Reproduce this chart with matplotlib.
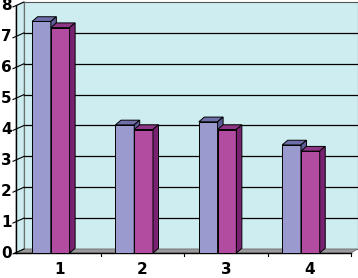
import matplotlib
matplotlib.use("Agg")
import matplotlib.pyplot as plt
from matplotlib.patches import Polygon

# ------------------------------------------------------------
# Data
# ------------------------------------------------------------

categories = [1, 2, 3, 4]
series_a = [7.5, 4.15, 4.25, 3.5]   # lavender bars
series_b = [7.3, 4.0, 4.0, 3.3]     # magenta bars
y_ticks = [0, 1, 2, 3, 4, 5, 6, 7, 8]

# ------------------------------------------------------------
# Figure / axes (front plane of the fake 3D chart)
# ------------------------------------------------------------

W, H = 358, 278
fig = plt.figure(figsize=(W / 100, H / 100), dpi=100)
fig.patch.set_facecolor("white")

x_lo, x_hi = 0.5, 4.5
y_lo, y_hi = 0, 8
px_left, px_right = 17.5, 351.0
px_bottom, px_top = 253.0, 6.0
ax = fig.add_axes([px_left / W, (H - px_bottom) / H,
                   (px_right - px_left) / W, (px_bottom - px_top) / H])
ax.set_xlim(x_lo, x_hi)
ax.set_ylim(y_lo, y_hi)
ax.axis("off")

# pixel -> data conversions for depth offsets
ux = (px_right - px_left) / (x_hi - x_lo)
uy = (px_bottom - px_top) / (y_hi - y_lo)

wall_dx, wall_dy = 6.5 / ux, 4.0 / uy
bar_dx, bar_dy = 5.5 / ux, 4.7 / uy

wall_color = "#CDEDF0"

# back wall
wall = Polygon([(x_lo + wall_dx, wall_dy), (x_hi + wall_dx, wall_dy),
                (x_hi + wall_dx, y_hi + wall_dy), (x_lo + wall_dx, y_hi + wall_dy)],
               closed=True, facecolor=wall_color, edgecolor="#555555",
               linewidth=0.8, clip_on=False, zorder=0)
ax.add_patch(wall)

# left side wall
side = Polygon([(x_lo - 1.5 / ux, 0), (x_lo - 1.5 / ux, y_hi),
                (x_lo + wall_dx, y_hi + wall_dy), (x_lo + wall_dx, wall_dy)],
               closed=True, facecolor=wall_color, edgecolor="#8A9A9A",
               linewidth=0.6, clip_on=False, zorder=0)
ax.add_patch(side)

# gridlines on back wall
for t in y_ticks[1:-1]:
    ax.plot([x_lo + wall_dx, x_hi + wall_dx], [t + wall_dy, t + wall_dy],
            color="black", linewidth=0.9, clip_on=False, zorder=1)

# floor
floor = Polygon([(x_lo - 1.5 / ux, 0), (x_hi, 0),
                 (x_hi + wall_dx, wall_dy), (x_lo + wall_dx, wall_dy)],
                closed=True, facecolor="#9A9A9A", edgecolor="#707070",
                linewidth=0.6, clip_on=False, zorder=1)
ax.add_patch(floor)

# front y axis line + diagonal ticks + labels
ax.plot([x_lo - 1.5 / ux, x_lo - 1.5 / ux], [0, y_hi], color="black",
        linewidth=1.0, clip_on=False, zorder=2)
for t in y_ticks:
    ax.plot([x_lo - 4.5 / ux, x_lo + wall_dx], [t - 0.3 / uy * 3, t + wall_dy],
            color="black", linewidth=0.8, clip_on=False, zorder=2)
    ax.text(x_lo - 6 / ux, t, str(t), ha="right", va="center",
            fontsize=11, fontweight="bold", clip_on=False)

# front x axis line, ticks and labels
ax.plot([x_lo - 4 / ux, x_hi], [0, 0], color="black", linewidth=1.0,
        clip_on=False, zorder=2)
for b in [1.5, 2.5, 3.5, 4.5]:
    ax.plot([b, b], [0, -3 / uy], color="black", linewidth=0.8,
            clip_on=False, zorder=2)
for c in categories:
    ax.text(c, -17 / uy, str(c), ha="center", va="center",
            fontsize=11, fontweight="bold", clip_on=False)

# ------------------------------------------------------------
# 3D-looking bars
# ------------------------------------------------------------

bw = 0.225
shift = -0.1
styles = [
    (series_a, -1, "#9A9ACF", "#6E6EA8", "#5C5C96"),
    (series_b, 0, "#B24CA0", "#8E3686", "#7A2272"),
]


def draw_bar(x0, v, front, top, right, z):
    x1 = x0 + bw
    ax.bar(x0, v, width=bw, align="edge", color=front, edgecolor="black",
           linewidth=0.7, zorder=z)
    ax.add_patch(Polygon([(x0, v), (x1, v), (x1 + bar_dx, v + bar_dy),
                          (x0 + bar_dx, v + bar_dy)], closed=True,
                         facecolor=top, edgecolor="black", linewidth=0.7,
                         zorder=z, clip_on=False))
    ax.add_patch(Polygon([(x1, 0), (x1, v), (x1 + bar_dx, v + bar_dy),
                          (x1 + bar_dx, bar_dy)], closed=True,
                         facecolor=right, edgecolor="black", linewidth=0.7,
                         zorder=z, clip_on=False))


for i, c in enumerate(categories):
    for k, (vals, pos, front, top, right) in enumerate(styles):
        x0 = c + shift + pos * bw
        draw_bar(x0, vals[i], front, top, right, 3 + k)

fig.savefig("out.png", dpi=100)
